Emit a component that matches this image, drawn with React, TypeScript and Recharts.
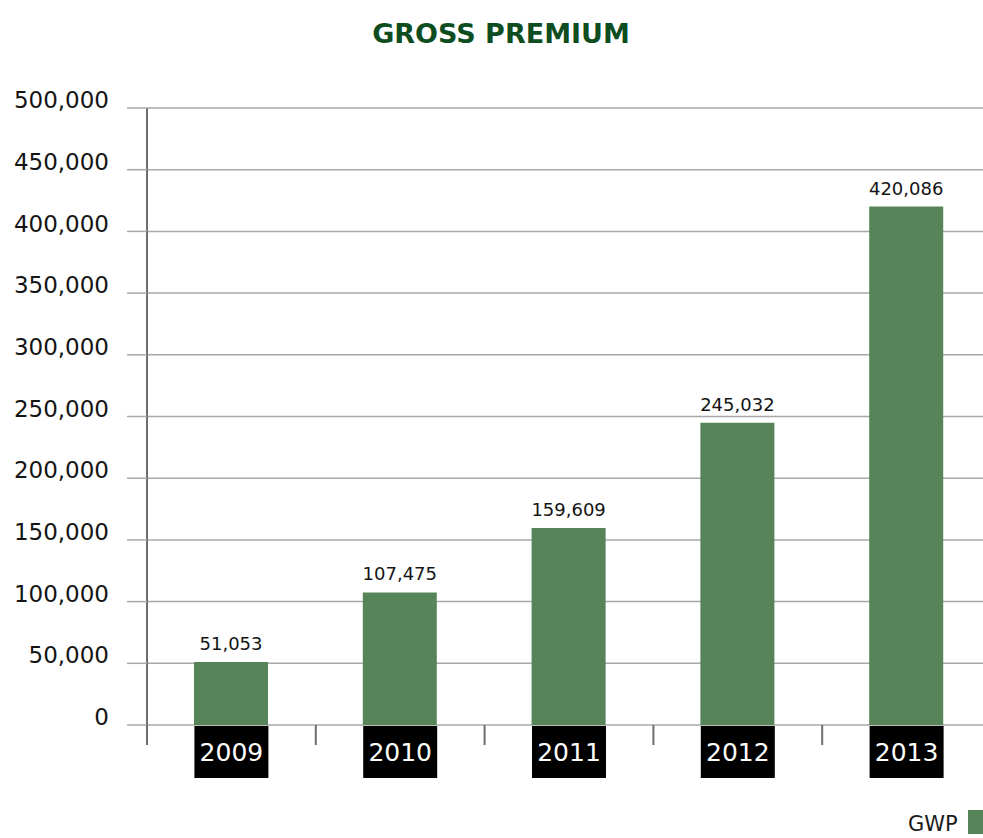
import React from "react";
import {
  BarChart,
  Bar,
  XAxis,
  YAxis,
  CartesianGrid,
  LabelList,
  Legend,
} from "recharts";

const years = ["2009", "2010", "2011", "2012", "2013"];
const gwp = [51053, 107475, 159609, 245032, 420086];
const yTicks = [0, 50000, 100000, 150000, 200000, 250000, 300000, 350000, 400000, 450000, 500000];

const data = years.map((year, i) => ({ year, gwp: gwp[i] }));

const FONT = "'DejaVu Sans', sans-serif";
const GREEN = "#578459";
const AXIS = "#6e6e6e";
const GRID = "#a8a8a8";

const CHART_W = 991;
const CHART_H = 838;
const YAXIS_W = 147;
const TOP = 108;
const XAXIS_H = 113;
const BAND = (CHART_W - YAXIS_W) / years.length;
const BAR_W = 74;

const fmt = (v: number) => v.toLocaleString("en-US");

function YTick(props: any) {
  const { x, y, payload } = props;
  return (
    <text
      x={x}
      y={y - 8}
      dy="0.355em"
      textAnchor="end"
      fontFamily={FONT}
      fontSize={23}
      fill="#141414"
    >
      {fmt(payload.value)}
    </text>
  );
}

function XTick(props: any) {
  const { x, y, payload } = props;
  return (
    <g>
      <line x1={x - BAND / 2} x2={x - BAND / 2} y1={y} y2={y + 20} stroke={AXIS} strokeWidth={2} />
      <rect x={x - BAR_W / 2} y={y + 1} width={BAR_W} height={52} fill="#000" />
      <text
        x={x}
        y={y + 27}
        dy="0.355em"
        textAnchor="middle"
        fontFamily={FONT}
        fontSize={25}
        fill="#fff"
      >
        {payload.value}
      </text>
    </g>
  );
}

function LegendContent() {
  return (
    <div style={{ display: "flex", alignItems: "flex-start", fontFamily: FONT }}>
      <span style={{ fontSize: 21, lineHeight: "21px", color: "#1a1a1a", marginTop: 4 }}>GWP</span>
      <span style={{ width: 16, height: 24, background: GREEN, marginLeft: 10 }} />
    </div>
  );
}

export default function App() {
  return (
    <div
      style={{
        position: "absolute",
        left: 0,
        top: 0,
        width: 983,
        height: 838,
        overflow: "hidden",
        background: "#fff",
      }}
    >
      <div
        style={{
          position: "absolute",
          left: 0,
          top: 20,
          width: 1002,
          textAlign: "center",
          fontFamily: FONT,
          fontWeight: "bold",
          fontSize: 27,
          lineHeight: 1,
          color: "#0e4d1f",
        }}
      >
        GROSS PREMIUM
      </div>
      <BarChart
        width={CHART_W}
        height={CHART_H}
        data={data}
        margin={{ top: TOP, right: 0, bottom: 0, left: 0 }}
      >
        <CartesianGrid vertical={false} stroke={GRID} strokeWidth={1.5} />
        <XAxis
          dataKey="year"
          height={XAXIS_H}
          axisLine={false}
          tickLine={false}
          tickSize={0}
          tickMargin={0}
          interval={0}
          tick={<XTick />}
        />
        <YAxis
          width={YAXIS_W}
          domain={[0, 500000]}
          ticks={yTicks}
          interval={0}
          axisLine={{ stroke: AXIS, strokeWidth: 2 }}
          tickLine={{ stroke: GRID, strokeWidth: 1.5 }}
          tickSize={20}
          tickMargin={18}
          tick={<YTick />}
        />
        <Legend
          layout="vertical"
          align="center"
          verticalAlign="middle"
          wrapperStyle={{ left: 908, top: 810, width: 90 }}
          content={<LegendContent />}
        />
        <Bar dataKey="gwp" name="GWP" fill={GREEN} barSize={BAR_W} isAnimationActive={false}>
          <LabelList
            dataKey="gwp"
            position="top"
            offset={12}
            formatter={(v: any) => fmt(Number(v))}
            style={{ fontFamily: FONT, fontSize: 18, fill: "#141414" }}
          />
        </Bar>
      </BarChart>
    </div>
  );
}
